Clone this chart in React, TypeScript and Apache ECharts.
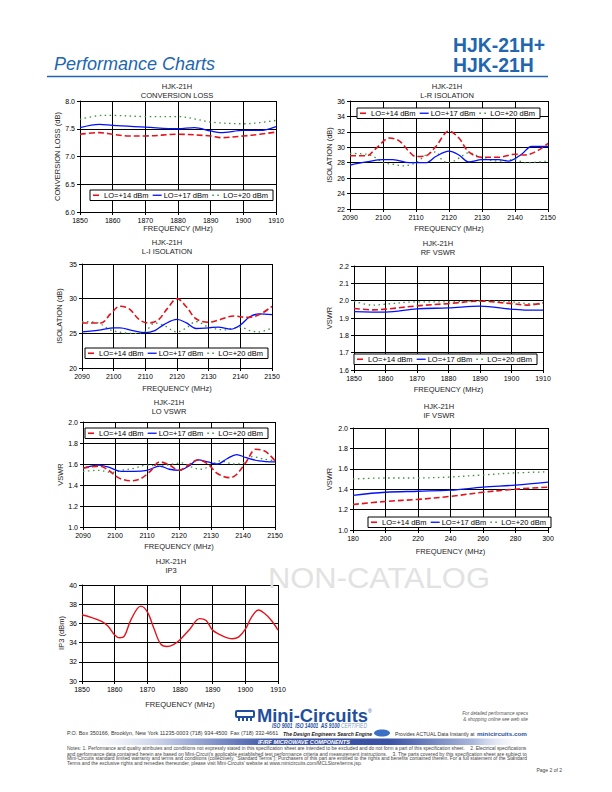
import React, { useEffect, useRef } from 'react';
import * as echarts from 'echarts';

const FONT = '"Liberation Sans", Arial, Helvetica, sans-serif';
const SERIES_NAMES = ['LO=+14 dBm', 'LO=+17 dBm', 'LO=+20 dBm'];

// ---- Conversion loss (dB) ----
const cl14X = [1850, 1856, 1860, 1865, 1870, 1880, 1890, 1893, 1900, 1905, 1910];
const cl14 = [7.4, 7.43, 7.4, 7.37, 7.37, 7.4, 7.37, 7.34, 7.37, 7.4, 7.44];
const cl17X = [1850, 1856, 1860, 1870, 1880, 1885, 1890, 1893, 1900, 1905, 1910];
const cl17 = [7.52, 7.58, 7.56, 7.53, 7.5, 7.52, 7.46, 7.43, 7.47, 7.47, 7.54];
const cl20X = [1850, 1857, 1860, 1870, 1880, 1885, 1890, 1900, 1905, 1910];
const cl20 = [7.67, 7.74, 7.74, 7.72, 7.72, 7.68, 7.62, 7.59, 7.61, 7.65];

// ---- L-R isolation (dB) ----
const lr14X = [2090, 2095, 2098, 2102, 2105, 2108, 2110, 2113, 2116, 2120, 2123, 2126, 2130, 2135, 2140, 2143, 2147, 2150];
const lr14 = [28.9, 28.9, 29.9, 31.2, 30.8, 29.4, 28.8, 28.9, 30.1, 32.1, 31.2, 29.4, 28.7, 28.7, 29.1, 29.0, 29.6, 30.5];
const lr17X = [2090, 2095, 2100, 2103, 2108, 2113, 2116, 2120, 2123, 2126, 2130, 2135, 2138, 2142, 2145, 2150];
const lr17 = [27.7, 28.1, 28.4, 28.4, 28.0, 28.0, 28.8, 29.5, 29.0, 28.1, 28.4, 28.4, 28.2, 29.1, 30.1, 30.1];
const lr20X = [2090, 2095, 2098, 2100, 2103, 2106, 2110, 2113, 2116, 2118, 2120, 2123, 2126, 2130, 2135, 2140, 2143, 2150];
const lr20 = [29.2, 29.1, 28.6, 28.0, 27.8, 27.6, 28.0, 29.0, 29.4, 28.3, 28.0, 28.6, 29.3, 28.6, 28.2, 28.4, 28.0, 28.2];

// ---- L-I isolation (dB) ----
const li14X = [2090, 2096, 2099, 2102, 2105, 2108, 2111, 2114, 2117, 2120, 2123, 2126, 2130, 2133, 2138, 2142, 2146, 2150];
const li14 = [26.5, 26.5, 27.8, 28.9, 28.5, 27.0, 26.5, 26.9, 28.6, 30.0, 28.8, 27.1, 26.6, 26.9, 27.5, 27.3, 27.7, 28.9];
const li17X = [2090, 2096, 2100, 2102, 2106, 2110, 2113, 2116, 2120, 2123, 2126, 2130, 2133, 2137, 2140, 2143, 2146, 2150];
const li17 = [25.2, 25.5, 25.8, 25.8, 25.4, 25.1, 25.4, 26.3, 27.0, 26.5, 25.7, 25.8, 25.9, 25.6, 26.2, 27.4, 27.8, 27.7];
const li20X = [2090, 2095, 2099, 2103, 2107, 2110, 2113, 2116, 2120, 2123, 2126, 2130, 2135, 2140, 2143, 2146, 2150];
const li20 = [26.7, 26.5, 25.5, 25.1, 25.0, 25.3, 26.5, 26.1, 25.2, 25.8, 26.7, 25.9, 25.5, 25.9, 25.4, 25.2, 25.8];

// ---- RF VSWR ----
const rf14X = [1850, 1856, 1860, 1870, 1880, 1890, 1900, 1905, 1910];
const rf14 = [1.955, 1.947, 1.951, 1.97, 1.983, 1.997, 1.983, 1.974, 1.987];
const rf17X = [1850, 1860, 1870, 1880, 1890, 1900, 1905, 1910];
const rf17 = [1.937, 1.934, 1.953, 1.958, 1.968, 1.951, 1.945, 1.945];
const rf20X = [1850, 1856, 1860, 1870, 1880, 1890, 1900, 1905, 1910];
const rf20 = [1.997, 1.974, 1.98, 1.993, 1.993, 1.999, 1.993, 1.983, 1.98];

// ---- LO VSWR ----
const lo14X = [2090, 2095, 2098, 2101, 2105, 2108, 2111, 2114, 2117, 2120, 2123, 2126, 2129, 2132, 2136, 2138, 2141, 2144, 2147, 2150];
const lo14 = [1.56, 1.58, 1.54, 1.47, 1.44, 1.46, 1.53, 1.62, 1.59, 1.54, 1.59, 1.64, 1.6, 1.51, 1.47, 1.5, 1.62, 1.74, 1.72, 1.63];
const lo17X = [2090, 2095, 2098, 2102, 2106, 2110, 2114, 2117, 2120, 2123, 2126, 2129, 2132, 2135, 2138, 2141, 2145, 2150];
const lo17 = [1.56, 1.59, 1.57, 1.53, 1.53, 1.54, 1.58, 1.55, 1.54, 1.58, 1.64, 1.62, 1.6, 1.65, 1.69, 1.66, 1.63, 1.62];
const lo20X = [2090, 2095, 2099, 2102, 2106, 2110, 2114, 2118, 2121, 2124, 2127, 2130, 2133, 2137, 2140, 2143, 2146, 2150];
const lo20 = [1.53, 1.54, 1.52, 1.54, 1.56, 1.59, 1.58, 1.6, 1.61, 1.57, 1.55, 1.59, 1.63, 1.6, 1.61, 1.67, 1.65, 1.63];

// ---- IF VSWR ----
const ifX = [180, 200, 220, 240, 260, 280, 300];
const if14 = [1.25, 1.28, 1.3, 1.33, 1.37, 1.4, 1.42];
const if17 = [1.34, 1.37, 1.38, 1.39, 1.42, 1.44, 1.47];
const if20 = [1.5, 1.51, 1.51, 1.52, 1.54, 1.56, 1.57];

// ---- IP3 (dBm) ----
const ip3X = [1850, 1853, 1856, 1858, 1860, 1861.5, 1863, 1865, 1868, 1870, 1872, 1874, 1876, 1878, 1880, 1883, 1886, 1888, 1890, 1893, 1896, 1898, 1900, 1902, 1904, 1906, 1908, 1910];
const ip3 = [36.9, 36.6, 36.2, 35.7, 34.8, 34.5, 34.7, 36.4, 37.8, 37.2, 35.5, 33.9, 33.6, 33.8, 34.3, 35.4, 36.5, 36.3, 35.3, 34.7, 34.4, 34.6, 35.4, 36.7, 37.4, 37.0, 36.3, 35.3];

const NOTES = [
  'Notes: 1. Performance and quality attributes and conditions not expressly stated in this specification sheet are intended to be excluded and do not form a part of this specification sheet.    2. Electrical specifications',
  'and performance data contained herein are based on Mini-Circuit\u2019s applicable established test performance criteria and measurement instructions.    3. The parts covered by this specification sheet are subject to',
  'Mini-Circuits standard limited warranty and terms and conditions (collectively, \u201cStandard Terms\u201d); Purchasers of this part are entitled to the rights and benefits contained therein. For a full statement of the Standard',
  'Terms and the exclusive rights and remedies thereunder, please visit Mini-Circuits\u2019 website at www.minicircuits.com/MCLStore/terms.jsp.',
];

const BLUE = '#2166ae';
const LOGO_BLUE = '#1f4f9e';
const RED = '#e3131b';
const LBLUE = '#0010ff';
const GREEN = '#3d8f3d';

const LINE_STYLES = [
  { color: RED, width: 1.6, type: [6, 3] as any },
  { color: LBLUE, width: 1.3, type: 'solid' as any },
  { color: GREEN, width: 1.3, type: [1.5, 3.5] as any },
];

function measure(text: string, font: string): number {
  const c = document.createElement('canvas').getContext('2d')!;
  c.font = font;
  return c.measureText(text).width;
}

function fitText(text: string, font: string, x: number, y: number, width: number | null, fill: string, align = 'left', scale?: number): any {
  const w = measure(text, font);
  const s = scale != null ? scale : width != null ? width / w : 1;
  return {
    type: 'text',
    x,
    y,
    scaleX: s,
    silent: true,
    z: 20,
    style: { text, font, fill, align, textAlign: align, verticalAlign: 'middle', textVerticalAlign: 'middle' },
  };
}

function legendBox(L: number, T: number, W: number, H: number): any[] {
  const els: any[] = [];
  els.push({ type: 'rect', silent: true, z: 15, shape: { x: L, y: T, width: W, height: H }, style: { fill: '#fff', stroke: '#000', lineWidth: 1 } });
  const cy = T + H / 2;
  const slot = (W - 4) / 3;
  LINE_STYLES.forEach((ls, k) => {
    const x0 = L + 2 + k * slot;
    els.push({
      type: 'line', silent: true, z: 16,
      shape: { x1: x0 + 1, y1: cy, x2: x0 + 10, y2: cy },
      style: { stroke: ls.color, lineWidth: ls.width, lineDash: ls.type === 'solid' ? null : ls.type },
    });
    els.push(fitText(SERIES_NAMES[k], `7.3px ${FONT}`, x0 + 12, cy + 0.3, slot - 15, '#000'));
  });
  return els;
}

function buildOption() {
  const panels: any[] = [
    { title: 'CONVERSION LOSS', tx: 177, ty: 86, grid: { left: 80, top: 101, width: 196, height: 111 }, xr: [1850, 1910, 10], yr: [6, 8, 0.5], dec: 1, yName: 'CONVERSION LOSS (dB)', yGap: 18, xGap: 12, lines: [[cl14X, cl14], [cl17X, cl17], [cl20X, cl20]], legend: [90, 190] },
    { title: 'L-R ISOLATION', tx: 447, ty: 86, grid: { left: 350, top: 101, width: 198, height: 108 }, xr: [2090, 2150, 10], yr: [22, 36, 2], dec: 0, yName: 'ISOLATION (dB)', yGap: 16, xGap: 15, lines: [[lr14X, lr14], [lr17X, lr17], [lr20X, lr20]], legend: [357, 108] },
    { title: 'L-I ISOLATION', tx: 167, ty: 242.5, grid: { left: 82, top: 264, width: 190, height: 104 }, xr: [2090, 2150, 10], yr: [20, 35, 5], dec: 0, yName: 'ISOLATION (dB)', yGap: 19, xGap: 16, lines: [[li14X, li14], [li17X, li17], [li20X, li20]], legend: [85, 348] },
    { title: 'RF VSWR', tx: 438, ty: 243.5, grid: { left: 354, top: 266, width: 189, height: 104 }, xr: [1850, 1910, 10], yr: [1.6, 2.2, 0.1], dec: 1, yName: 'VSWR', yGap: 21, xGap: 15, lines: [[rf14X, rf14], [rf17X, rf17], [rf20X, rf20]], legend: [354, 354] },
    { title: 'LO VSWR', tx: 169, ty: 402, grid: { left: 83, top: 422, width: 192, height: 105 }, xr: [2090, 2150, 10], yr: [1, 2, 0.2], dec: 1, yName: 'VSWR', yGap: 19, xGap: 15, lines: [[lo14X, lo14], [lo17X, lo17], [lo20X, lo20]], legend: [85, 428] },
    { title: 'IF VSWR', tx: 439, ty: 406, grid: { left: 353, top: 428, width: 195, height: 102 }, xr: [180, 300, 20], yr: [1, 2, 0.2], dec: 1, yName: 'VSWR', yGap: 20, xGap: 17, lines: [[ifX, if14], [ifX, if17], [ifX, if20]], legend: [368, 517] },
    { title: 'IP3', tx: 171, ty: 561, grid: { left: 82, top: 585, width: 196, height: 96 }, xr: [1850, 1910, 10], yr: [30, 40, 2], dec: 0, yName: 'IP3 (dBm)', yGap: 17, xGap: 19, lines: [[ip3X, ip3]], single: true },
  ];

  const grid: any[] = [];
  const xAxis: any[] = [];
  const yAxis: any[] = [];
  const series: any[] = [];
  const graphic: any[] = [];

  const axisCommon = (i: number) => ({
    gridIndex: i,
    axisLine: { show: true, onZero: false, lineStyle: { color: '#000', width: 1 } },
    axisTick: { show: true, inside: false, length: 3, lineStyle: { color: '#000', width: 1 } },
    splitLine: { show: true, lineStyle: { color: '#000', width: 1 } },
    nameLocation: 'middle',
    nameTextStyle: { fontFamily: FONT, fontSize: 7.5, color: '#222' },
  });

  panels.forEach((p, i) => {
    grid.push({ ...p.grid, containLabel: false, outerBoundsMode: 'none' });
    xAxis.push({
      ...axisCommon(i),
      type: 'value',
      min: p.xr[0],
      max: p.xr[1],
      interval: p.xr[2],
      name: 'FREQUENCY (MHz)',
      nameGap: p.xGap,
      axisLabel: { fontFamily: FONT, fontSize: 7, color: '#000', margin: 5, formatter: (v: number) => String(v) },
    });
    yAxis.push({
      ...axisCommon(i),
      type: 'value',
      min: p.yr[0],
      max: p.yr[1],
      interval: p.yr[2],
      name: p.yName,
      nameGap: p.yGap,
      axisLabel: { fontFamily: FONT, fontSize: 7, color: '#000', margin: 5, formatter: (v: number) => v.toFixed(p.dec) },
    });
    p.lines.forEach((ln: any[], k: number) => {
      const [xs, ys] = ln;
      series.push({
        type: 'line',
        name: p.single ? 'IP3' : SERIES_NAMES[k],
        xAxisIndex: i,
        yAxisIndex: i,
        data: xs.map((x: number, j: number) => [x, ys[j]]),
        smooth: 0.35,
        symbol: 'none',
        showSymbol: false,
        color: p.single ? RED : LINE_STYLES[k].color,
        lineStyle: p.single ? { color: RED, width: 1.4, type: 'solid' } : { ...LINE_STYLES[k] },
        z: 3 - k,
      });
    });
    if (p.legend) graphic.push(...legendBox(p.legend[0], p.legend[1], 183, 10.5));
    const tf = `7.5px ${FONT}`;
    graphic.push(fitText('HJK-21H', tf, p.tx, p.ty, null, '#222', 'center'));
    graphic.push(fitText(p.title, tf, p.tx, p.ty + 9, null, '#222', 'center'));
  });

  // ---- header ----
  graphic.push(fitText('Performance Charts', `italic 18px ${FONT}`, 54, 63.5, 161, BLUE));
  const hf = `bold 19.5px ${FONT}`;
  const hScale = 92 / measure('HJK-21H+', hf);
  graphic.push(fitText('HJK-21H+', hf, 453, 45, null, BLUE, 'left', hScale));
  graphic.push(fitText('HJK-21H', hf, 453, 65, null, BLUE, 'left', hScale));
  graphic.push({ type: 'line', silent: true, shape: { x1: 47, y1: 76.5, x2: 548, y2: 76.5 }, style: { stroke: BLUE, lineWidth: 1.3 } });

  // ---- watermark ----
  graphic.push(fitText('NON-CATALOG', `30px ${FONT}`, 268, 577, 222, '#e2e2e2'));

  // ---- footer: logo ----
  graphic.push({ type: 'rect', silent: true, shape: { x: 236, y: 711, width: 18, height: 6, r: 1 }, style: { fill: 'none', stroke: LOGO_BLUE, lineWidth: 2 } });
  [238, 242, 246, 250].forEach((px) => {
    graphic.push({ type: 'rect', silent: true, shape: { x: px, y: 718, width: 2, height: 3 }, style: { fill: LOGO_BLUE } });
  });
  graphic.push(fitText('Mini-Circuits', `bold 19px ${FONT}`, 257, 715.5, 111, LOGO_BLUE));
  graphic.push(fitText('\u00ae', `5px ${FONT}`, 368, 711, null, LOGO_BLUE));
  graphic.push(fitText('ISO 9001  ISO 14001  AS 9100', `italic bold 6.5px ${FONT}`, 272, 725.5, 68, LOGO_BLUE));
  graphic.push(fitText('CERTIFIED', `italic 6.5px ${FONT}`, 341, 725.5, 26, '#7f9ccc'));
  graphic.push(fitText('For detailed performance specs', `italic 5px ${FONT}`, 528, 713, 66, '#555', 'right'));
  graphic.push(fitText('& shopping online see web site', `italic 5px ${FONT}`, 528, 719, 65, '#555', 'right'));

  // ---- footer: address line ----
  const ay = 733.5;
  graphic.push(fitText('P.O. Box 350166, Brooklyn, New York 11235-0003 (718) 934-4500  Fax (718) 332-4661', `5.2px ${FONT}`, 67, ay, 211, '#333'));
  graphic.push(fitText('The Design Engineers Search Engine', `italic bold 5.2px ${FONT}`, 283, ay, 89, '#222'));
  graphic.push({ type: 'ellipse', silent: true, shape: { cx: 382, cy: ay - 0.5, rx: 8, ry: 3.5 }, style: { fill: '#3b6fc4' } });
  graphic.push(fitText('Provides ACTUAL Data Instantly at', `5.2px ${FONT}`, 395, ay, 80, '#333'));
  graphic.push(fitText('minicircuits.com', `bold 6px ${FONT}`, 477, ay, 50, LOGO_BLUE));

  // ---- footer: bar ----
  graphic.push({
    type: 'rect', silent: true,
    shape: { x: 67, y: 738.5, width: 461, height: 6.5 },
    style: {
      fill: new echarts.graphic.LinearGradient(0, 0, 1, 0, [
        { offset: 0, color: 'rgba(255,255,255,0)' },
        { offset: 0.25, color: '#a9b6dc' },
        { offset: 0.45, color: '#3a53a4' },
        { offset: 0.7, color: '#3a53a4' },
        { offset: 0.88, color: '#a9b6dc' },
        { offset: 1, color: 'rgba(255,255,255,0)' },
      ]),
    },
  });
  graphic.push(fitText('IF/RF MICROWAVE COMPONENTS', `italic bold 5.6px ${FONT}`, 304, 741.8, 92, '#fff', 'center'));

  // ---- footer: notes ----
  const nf = `5px ${FONT}`;
  const nScale = 461 / measure(NOTES[0], nf);
  NOTES.forEach((ln, k) => {
    const last = k === NOTES.length - 1;
    graphic.push(fitText(ln, nf, 67, 748.5 + k * 5, last ? null : 461, '#444', 'left', last ? nScale : undefined));
  });
  graphic.push(fitText('Page 2 of 2', `5px ${FONT}`, 562, 770, null, '#444', 'right'));

  return {
    animation: false,
    backgroundColor: '#fff',
    textStyle: { fontFamily: FONT },
    grid,
    xAxis,
    yAxis,
    series,
    graphic: { elements: graphic },
  };
}

export default function App() {
  const ref = useRef<HTMLDivElement>(null);
  useEffect(() => {
    const chart = echarts.init(ref.current!, null, { renderer: 'svg' });
    chart.setOption(buildOption() as any);
    return () => chart.dispose();
  }, []);
  return <div ref={ref} style={{ position: 'absolute', left: 0, top: 0, width: 612, height: 792 }} />;
}
